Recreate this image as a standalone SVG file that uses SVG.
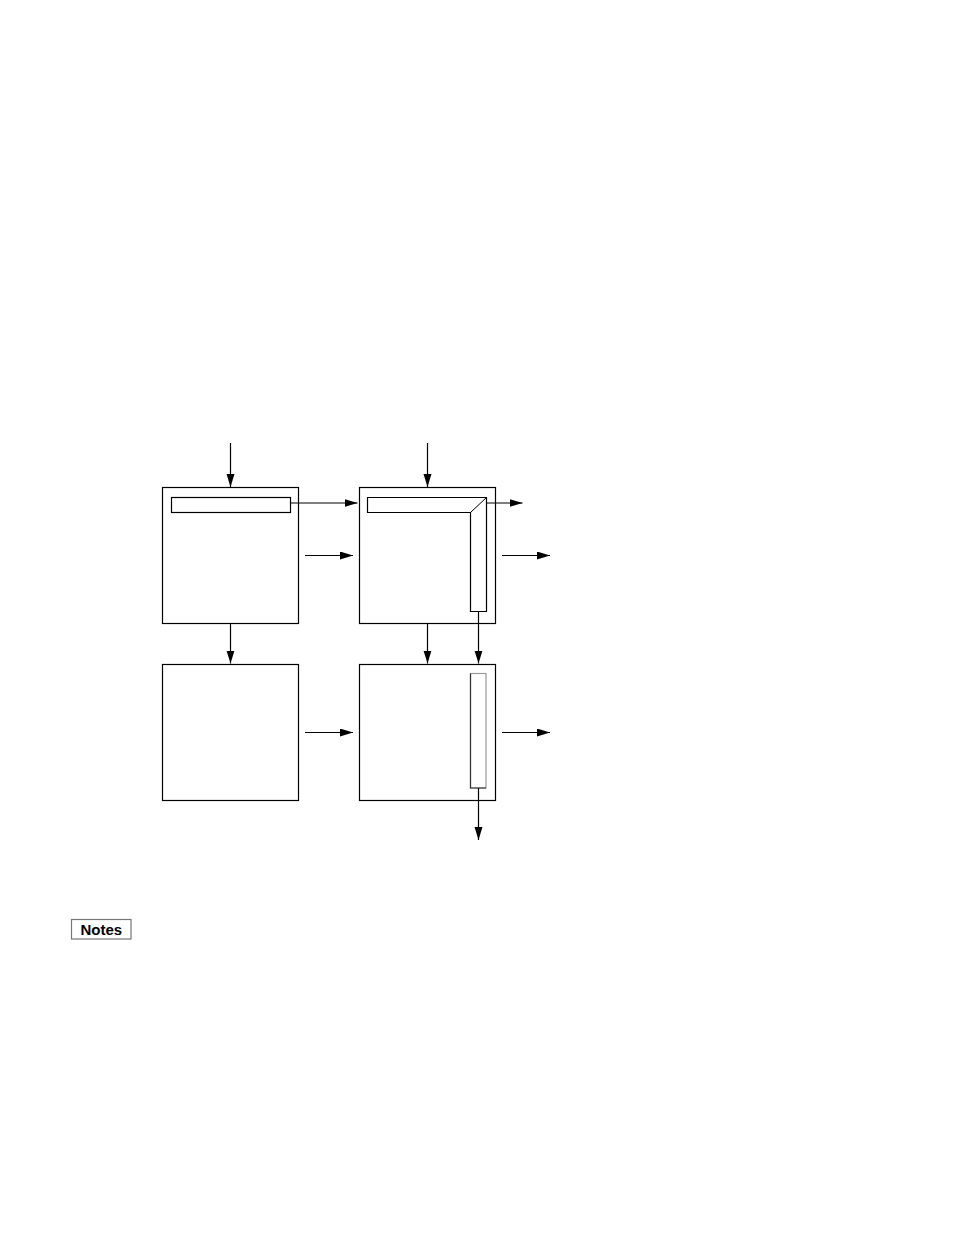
<svg xmlns="http://www.w3.org/2000/svg" width="954" height="1243" viewBox="0 0 954 1243">
<style>
.box{fill:#fff;stroke:#000;stroke-width:1.2}
.bar{fill:#fff;stroke:#000;stroke-width:1.2}
.conn{stroke:#000;stroke-width:1.2;fill:none;marker-end:url(#ah)}
.note{font-family:"Liberation Sans",Arial,sans-serif;font-weight:bold;font-size:15px}
</style>
<defs>
<marker id="ah" markerUnits="userSpaceOnUse" markerWidth="14" markerHeight="9" refX="13" refY="4" orient="auto">
<path d="M0,0 L13,4 L0,8 z" fill="#000"/>
</marker>
</defs>
<rect width="954" height="1243" fill="#fff"/>
<g id="node-tl">
<rect class="box" x="162.5" y="487.5" width="136" height="136"/>
<rect class="bar" x="171.5" y="497.5" width="119" height="15"/>
</g>
<g id="node-tr">
<rect class="box" x="359.5" y="487.5" width="136" height="136"/>
<path class="bar" d="M367.5,497.5 H486.5 V611.5 H470.5 V512.5 H367.5 Z"/>
<line x1="470.5" y1="512.5" x2="486.5" y2="497.5" stroke="#000" stroke-width="1"/>
</g>
<g id="node-bl">
<rect class="box" x="162.5" y="664.5" width="136" height="136"/>
</g>
<g id="node-br">
<rect class="box" x="359.5" y="664.5" width="136" height="136"/>
<rect x="470.5" y="673.5" width="15.5" height="114.5" fill="#fff" stroke="#999" stroke-width="1.2"/>
<path d="M470.5,673.5 V788 H486" fill="none" stroke="#333" stroke-width="1.2"/>
</g>
<g id="connectors">
<line class="conn" x1="230.5" y1="443" x2="230.5" y2="487"/>
<line class="conn" x1="427.5" y1="443" x2="427.5" y2="487"/>
<line class="conn" x1="291" y1="503" x2="357.5" y2="503"/>
<line class="conn" x1="305" y1="555.5" x2="353" y2="555.5"/>
<line class="conn" x1="486.5" y1="503" x2="522.5" y2="503"/>
<line class="conn" x1="502" y1="555.5" x2="550" y2="555.5"/>
<line class="conn" x1="230.5" y1="623.5" x2="230.5" y2="663.5"/>
<line class="conn" x1="427.5" y1="623.5" x2="427.5" y2="663.5"/>
<line class="conn" x1="478.5" y1="611.5" x2="478.5" y2="663.5"/>
<line class="conn" x1="305" y1="732.5" x2="353" y2="732.5"/>
<line class="conn" x1="502" y1="732.5" x2="550" y2="732.5"/>
<line class="conn" x1="478.5" y1="788" x2="478.5" y2="840"/>
</g>
<g id="notes">
<rect x="71.5" y="919.5" width="59.5" height="19.5" fill="#fff" stroke="#777" stroke-width="1.2"/>
<text class="note" x="101.3" y="935.3" text-anchor="middle">Notes</text>
</g>
</svg>
